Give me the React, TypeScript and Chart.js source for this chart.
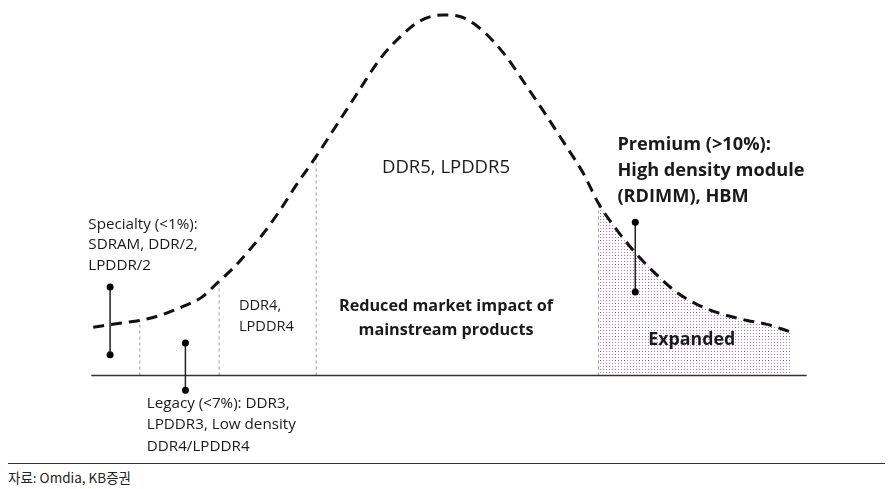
import React, { useEffect, useRef } from "react";
import { Chart, registerables } from "chart.js";

Chart.register(...registerables);

// Curve: position along axis (x) and height above baseline (y)
const curveX = [90, 115, 137, 157, 180, 200, 217, 232, 247, 262, 277, 295, 315, 335, 355, 380, 400, 420, 442, 458, 477, 493, 508, 525, 545, 565, 585, 600, 620, 637, 655, 677, 700, 723, 750, 770, 795];
const curveY = [49, 53, 56, 61, 70, 80, 96, 110, 127, 145, 166, 194, 223, 254, 285, 323, 345, 361, 367, 366, 356, 341, 323, 298, 268, 237, 205, 175, 146, 125, 106, 86, 72, 63, 56, 52, 44];

// Segment boundaries (vertical dashed dividers)
const dividerX = [137, 217, 315, 600];
const dividerTop = [56, 96, 223, 175];

// Expanded (premium) region starts here
const expandedStartX = 600;

// Baseline
const baselineX = [88, 810];

// Marker bars (x, top, bottom)
const markerX = [107, 183, 637];
const markerTop = [90, 33, 156];
const markerBottom = [21, -15, 85];

// Labels
const specialtyLines = ["Specialty (<1%):", "SDRAM, DDR/2,", "LPDDR/2"];
const legacyLines = ["Legacy (<7%): DDR3,", "LPDDR3, Low density", "DDR4/LPDDR4"];
const ddr4Lines = ["DDR4,", "LPDDR4"];
const ddr5Label = "DDR5, LPDDR5";
const reducedLines = ["Reduced market impact of", "mainstream products"];
const premiumLines = ["Premium (>10%):", "High density module", "(RDIMM), HBM"];
const expandedLabel = "Expanded";
const sourceText = "자료: Omdia, KB증권";

const FONT = "'Open Sans', 'Noto Sans', sans-serif";

type Lbl = { text: string; x: number; y: number; bold?: boolean; size: number; align: CanvasTextAlign };

const labels: Lbl[] = [
  ...specialtyLines.map((t, i) => ({ text: t, x: 85, y: 154 - i * 21, size: 15.2, align: "left" as CanvasTextAlign })),
  ...legacyLines.map((t, i) => ({ text: t, x: 144, y: -29 - i * 21.5, size: 15.2, align: "left" as CanvasTextAlign })),
  ...ddr4Lines.map((t, i) => ({ text: t, x: 237, y: 71 - i * 22, size: 14.6, align: "left" as CanvasTextAlign })),
  { text: ddr5Label, x: 446, y: 211, size: 18.5, align: "center" },
  ...reducedLines.map((t, i) => ({ text: t, x: 446, y: 70 - i * 24, size: 16.2, bold: true, align: "center" as CanvasTextAlign })),
  ...premiumLines.map((t, i) => ({ text: t, x: 619, y: 235 - i * 26.5, size: 18.2, bold: true, align: "left" as CanvasTextAlign })),
  { text: expandedLabel, x: 694, y: 36, size: 17.8, bold: true, align: "center" },
];

const labelPlugin = {
  id: "diagramLabels",
  afterDatasetsDraw(chart: any) {
    const { ctx, scales } = chart;
    ctx.save();
    ctx.fillStyle = "#1a1a1a";
    ctx.textBaseline = "middle";
    for (const l of labels) {
      ctx.font = `${l.bold ? "bold " : ""}${l.size}px ${FONT}`;
      ctx.textAlign = l.align;
      ctx.fillText(l.text, scales.x.getPixelForValue(l.x), scales.y.getPixelForValue(l.y));
    }
    ctx.restore();
  },
};

function makePattern(): CanvasPattern | string {
  const c = document.createElement("canvas");
  c.width = 3;
  c.height = 3;
  const g = c.getContext("2d");
  if (!g) return "rgba(150,110,210,0.3)";
  g.fillStyle = "#a07ad8";
  g.fillRect(1, 1, 1, 1);
  const p = g.createPattern(c, "repeat");
  return p || "rgba(150,110,210,0.3)";
}

export default function App() {
  const ref = useRef<HTMLCanvasElement>(null);
  useEffect(() => {
    if (!ref.current) return;
    const curve = curveX.map((x, i) => ({ x, y: curveY[i] }));
    const expanded = curve.filter((p) => p.x >= expandedStartX);
    const datasets: any[] = [];
    datasets.push({
      data: expanded,
      borderWidth: 0,
      borderColor: "transparent",
      backgroundColor: makePattern(),
      fill: "origin",
      pointRadius: 0,
      cubicInterpolationMode: "monotone",
      order: 10,
    });
    dividerX.forEach((x, i) => {
      datasets.push({
        data: [{ x, y: 0 }, { x, y: dividerTop[i] }],
        borderColor: "#9a9a9a",
        borderWidth: 1,
        borderDash: [3, 3],
        pointRadius: 0,
        fill: false,
        order: 8,
      });
    });
    datasets.push({
      data: baselineX.map((x) => ({ x, y: 0 })),
      borderColor: "#333",
      borderWidth: 1.5,
      pointRadius: 0,
      fill: false,
      order: 6,
    });
    datasets.push({
      data: curve,
      borderColor: "#111",
      borderWidth: 3,
      borderDash: [11, 7],
      pointRadius: 0,
      fill: false,
      cubicInterpolationMode: "monotone",
      order: 4,
    });
    markerX.forEach((x, i) => {
      datasets.push({
        data: [{ x, y: markerTop[i] }, { x, y: markerBottom[i] }],
        borderColor: "#222",
        borderWidth: 1.5,
        pointRadius: 3.5,
        pointBackgroundColor: "#000",
        pointBorderColor: "#000",
        pointBorderWidth: 0,
        fill: false,
        order: 2,
      });
    });
    const chart = new Chart(ref.current, {
      type: "line",
      data: { datasets },
      options: {
        animation: false,
        responsive: true,
        maintainAspectRatio: false,
        layout: { padding: 0 },
        scales: {
          x: { type: "linear", min: 8, max: 885, display: false },
          y: { type: "linear", min: -84, max: 370, display: false },
        },
        plugins: { legend: { display: false }, tooltip: { enabled: false } },
        events: [],
      },
      plugins: [labelPlugin],
    } as any);
    return () => chart.destroy();
  }, []);

  return (
    <div style={{ width: 877 }}>
      <div style={{ position: "relative", width: 877, height: 454 }}>
        <canvas ref={ref} />
      </div>
      <div style={{ marginTop: 1, borderTop: "1px solid #333" }} />
      <div
        style={{
          fontFamily: "'Noto Sans CJK KR', 'Noto Sans', sans-serif",
          fontSize: 13.5,
          lineHeight: "16px",
          paddingTop: 5,
          color: "#222",
        }}
      >
        {sourceText}
      </div>
    </div>
  );
}
